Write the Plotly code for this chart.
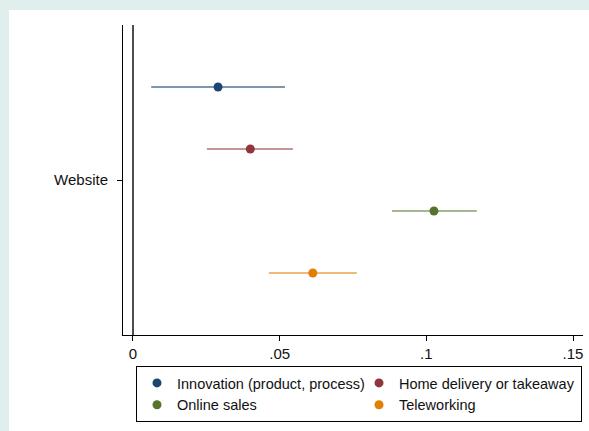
import plotly.graph_objects as go

# Coefficient estimates with 95% confidence intervals for the "Website" regressor
category = "Website"
series = ["Innovation (product, process)", "Home delivery or takeaway",
          "Online sales", "Teleworking"]
estimates = [0.029, 0.040, 0.1026, 0.0613]
ci_low = [0.0062, 0.0252, 0.0883, 0.0463]
ci_high = [0.0518, 0.0545, 0.1172, 0.0763]
colors = ["#1a476f", "#90353b", "#55752f", "#e37e00"]
ci_colors = ["rgba(26,71,111,0.75)", "rgba(144,53,59,0.7)",
             "rgba(85,117,47,0.7)", "rgba(227,126,0,0.7)"]
x_ticks = [0, 0.05, 0.1, 0.15]
x_ticklabels = ["0", ".05", ".1", ".15"]

W, H = 589, 431
L, R, T, B = 123, 6, 25, 96
pw, ph = W - L - R, H - T - B

fig = go.Figure()
n = len(series)
for i, name in enumerate(series):
    y = i - (n - 1) / 2
    fig.add_trace(go.Scatter(
        x=[estimates[i]], y=[y], mode="markers", name=name,
        marker=dict(color=colors[i], size=9),
        error_x=dict(type="data", symmetric=False,
                     array=[ci_high[i] - estimates[i]],
                     arrayminus=[estimates[i] - ci_low[i]],
                     color=ci_colors[i], thickness=1.6, width=0),
    ))

font = dict(family="Liberation Sans, Arial, Helvetica, sans-serif",
            size=15, color="#111111")

# white graph region framed by the light teal outer band
fig.add_shape(type="rect", xref="paper", yref="paper", layer="below",
              x0=(9 - L) / pw, x1=(W + 5 - L) / pw,
              y0=(T + ph - H - 5) / ph, y1=(T + ph - 10) / ph,
              fillcolor="white", line=dict(width=0))

fig.update_layout(
    width=W, height=H,
    margin=dict(l=L, r=R, t=T, b=B, autoexpand=False),
    paper_bgcolor="#e1eeee", plot_bgcolor="white",
    font=font,
    showlegend=True,
    legend=dict(orientation="h", x=(136 - L) / pw, xanchor="left",
                y=(T + ph - 366) / ph, yanchor="top",
                bordercolor="black", borderwidth=1, bgcolor="white",
                entrywidth=177, entrywidthmode="pixels",
                itemwidth=30, font=dict(font, size=14.5), tracegroupgap=0),
    xaxis=dict(range=[-0.0034, 0.1534], tickvals=x_ticks,
               ticktext=x_ticklabels, showgrid=False,
               showline=True, linecolor="black", linewidth=1,
               ticks="outside", ticklen=5, tickcolor="black",
               zeroline=True, zerolinecolor="#4d4d4d", zerolinewidth=2,
               tickfont=font),
    yaxis=dict(range=[2.5, -2.5], tickvals=[0], ticktext=[category],
               showgrid=False, zeroline=False,
               showline=True, linecolor="black", linewidth=1,
               ticks="outside", ticklen=5, tickcolor="black",
               ticklabelstandoff=6, tickfont=font),
)

fig.write_html("out.html")
